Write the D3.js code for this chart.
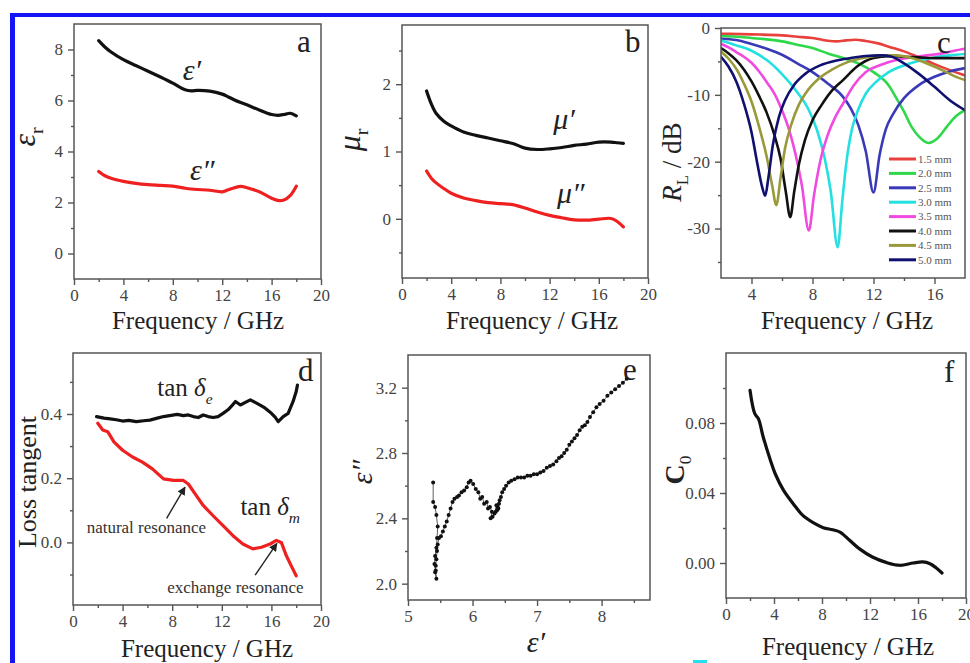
<!DOCTYPE html>
<html>
<head>
<meta charset="utf-8">
<title>Microwave absorption panels</title>
<script src="https://cdn.jsdelivr.net/npm/d3@7"></script>
<style>
  body { margin: 0; background: #fff; }
  svg text { font-family: "Liberation Serif", "Times New Roman", serif; }
  .axis .domain { display: none; }
  .axis line { stroke: #555; stroke-width: 1.4; }
  .axis text { font-size: 17px; fill: #444; font-family: "Liberation Serif", "Times New Roman", serif; }
</style>
</head>
<body>
<div id="chart"></div>
<script>
// ---- panel a : permittivity ----
var freqA = [2, 2.5, 3, 4, 5, 6, 7, 8, 9, 9.5, 10, 11, 12, 12.5, 13, 13.5, 14, 15, 16, 16.5, 17, 17.5, 18];
var epsReal = [8.35, 8.1, 7.9, 7.6, 7.37, 7.15, 6.92, 6.68, 6.42, 6.38, 6.4, 6.37, 6.25, 6.14, 6.02, 5.92, 5.83, 5.63, 5.45, 5.42, 5.45, 5.5, 5.4];
var epsImag = [3.22, 3.05, 2.95, 2.83, 2.75, 2.7, 2.67, 2.64, 2.56, 2.53, 2.51, 2.48, 2.42, 2.5, 2.58, 2.63, 2.58, 2.42, 2.17, 2.08, 2.1, 2.27, 2.64];

// ---- panel b : permeability ----
var freqB = [2, 2.4, 2.8, 3.4, 4, 5, 6, 7, 8, 9, 10, 11, 12, 13, 14, 15, 16, 17, 17.5, 18];
var muReal = [1.9, 1.7, 1.56, 1.45, 1.38, 1.29, 1.24, 1.2, 1.16, 1.12, 1.05, 1.03, 1.04, 1.06, 1.09, 1.11, 1.14, 1.14, 1.13, 1.12];
var muImag = [0.71, 0.6, 0.53, 0.45, 0.38, 0.31, 0.27, 0.24, 0.225, 0.21, 0.16, 0.1, 0.05, 0.015, -0.015, -0.02, -0.005, 0.005, -0.04, -0.12];

// ---- panel c : reflection loss, [GHz, dB] ----
var thickness = ["1.5 mm", "2.0 mm", "2.5 mm", "3.0 mm", "3.5 mm", "4.0 mm", "4.5 mm", "5.0 mm"];
var rl15 = [[2,-0.85],[4,-0.95],[6,-1.1],[7,-1.3],[8,-1.5],[9,-1.9],[9.6,-2.0],[10.2,-1.85],[10.8,-1.75],[11.5,-1.95],[12.3,-2.3],[13,-2.8],[14,-3.5],[15,-4.4],[16,-5.4],[17,-6.3],[18,-7.1]];
var rl20 = [[2,-1.2],[3,-1.3],[4,-1.5],[5,-1.7],[6,-2.0],[7,-2.5],[8,-3.0],[9,-3.8],[10,-4.5],[11,-5.3],[12,-6.6],[13,-8.6],[13.5,-10.5],[14,-12.5],[14.5,-14.8],[15,-16.3],[15.6,-17.2],[16.2,-16.5],[16.8,-14.8],[17.4,-13.2],[18,-12.3]];
var rl25 = [[2,-1.6],[3,-1.8],[4,-2.4],[5,-3.1],[6,-4.0],[7,-5.3],[8,-6.6],[9,-8.3],[10,-10.3],[10.5,-12.0],[11,-14.5],[11.5,-18.5],[12,-24.6],[12.4,-19.0],[12.8,-15.2],[13.3,-12.8],[14,-10.5],[15,-8.5],[16,-7.3],[17,-6.5],[18,-6.0]];
var rl30 = [[2,-1.85],[3,-2.6],[4,-3.4],[5,-4.8],[6,-6.9],[7,-9.6],[7.7,-12.0],[8.3,-15.3],[8.8,-19.5],[9.2,-24.5],[9.65,-32.8],[9.95,-26.0],[10.2,-20.5],[10.6,-15.0],[11,-12.2],[11.5,-9.8],[12.2,-8.0],[13,-6.6],[14,-5.6],[15,-4.9],[16,-4.4],[17,-4.1],[18,-3.9]];
var rl35 = [[2,-2.35],[2.5,-2.9],[3,-3.6],[3.5,-4.3],[4,-5.2],[4.5,-6.5],[5,-8.1],[5.5,-9.8],[6,-12.3],[6.5,-15.5],[6.9,-19.0],[7.3,-23.5],[7.76,-30.3],[8.1,-25.0],[8.5,-20.0],[9,-16.0],[9.5,-13.3],[10,-11.3],[10.7,-8.6],[11.5,-6.6],[12.5,-5.5],[13.5,-4.8],[14.5,-4.4],[15.5,-4.1],[16.5,-3.8],[17.3,-3.4],[18,-3.1]];
var rl40 = [[2,-3.0],[2.5,-3.8],[3,-4.8],[3.5,-6.2],[4,-8.0],[4.5,-10.2],[5,-12.7],[5.5,-16.0],[5.9,-19.5],[6.25,-24.5],[6.54,-28.3],[6.8,-24.5],[7.1,-20.5],[7.5,-16.8],[8,-13.8],[8.6,-11.5],[9.3,-9.3],[10,-7.8],[10.9,-5.8],[12,-4.5],[13,-4.2],[14,-4.3],[15,-4.4],[16,-4.5],[17,-4.5],[18,-4.5]];
var rl45 = [[2,-3.5],[2.5,-4.6],[3,-6.1],[3.5,-8.3],[4,-11.0],[4.5,-14.8],[5,-19.3],[5.35,-23.5],[5.63,-26.5],[5.9,-22.5],[6.2,-18.0],[6.6,-14.5],[7.1,-11.5],[7.6,-9.6],[8.4,-7.6],[9.3,-6.2],[10.3,-5.1],[11.5,-4.4],[12.5,-4.1],[13.5,-4.1],[14.5,-4.5],[15.5,-5.3],[16.5,-6.3],[17.3,-7.2],[18,-7.8]];
var rl50 = [[2,-4.3],[2.5,-5.8],[3,-8.0],[3.5,-11.3],[4,-15.6],[4.4,-20.5],[4.7,-23.8],[4.9,-25.1],[5.1,-22.5],[5.4,-17.5],[5.8,-13.3],[6.2,-10.8],[6.8,-8.5],[7.5,-6.9],[8.5,-5.6],[9.5,-4.9],[10.5,-4.5],[11.5,-4.2],[12.5,-4.1],[13.2,-4.3],[14,-5.3],[15,-6.9],[16,-8.8],[17,-10.8],[18,-12.3]];
var rlSeries = [rl15, rl20, rl25, rl30, rl35, rl40, rl45, rl50];
var rlColors = ["#e8413c", "#2ed84a", "#3a3ab8", "#24e0e0", "#f04ae0", "#111111", "#9a9a3a", "#101070"];

// ---- panel d : loss tangents ----
var freqDe = [1.9,2.5,3,3.5,4,4.5,5.1,5.7,6.2,6.8,7.3,7.8,8.4,8.9,9.3,9.7,10.1,10.5,10.9,11.3,11.7,12.1,12.5,12.8,13.1,13.5,13.9,14.3,14.8,15.2,15.5,16,16.3,16.55,16.95,17.35,17.75,18,18.1];
var tanDe = [0.392,0.387,0.385,0.382,0.378,0.38,0.376,0.379,0.381,0.387,0.392,0.395,0.399,0.395,0.397,0.392,0.389,0.397,0.392,0.389,0.392,0.402,0.413,0.425,0.439,0.428,0.436,0.444,0.434,0.425,0.418,0.402,0.39,0.376,0.392,0.402,0.439,0.47,0.49];
var freqDm = [2,2.4,2.8,3.3,4,4.8,5.6,6.4,7.3,8.1,8.9,9.3,9.85,10.5,11.3,12.1,12.9,13.7,14.5,15.2,15.9,16.4,16.8,17.2,17.6,18];
var tanDm = [0.371,0.35,0.345,0.313,0.287,0.266,0.25,0.229,0.198,0.193,0.193,0.182,0.151,0.115,0.083,0.052,0.021,-0.005,-0.02,-0.015,-0.005,0.006,0.0,-0.041,-0.073,-0.104];

// ---- panel e : Cole-Cole plot ----
var ccReal = [8.39,8.33,8.27,8.21,8.15,8.09,8.03,7.97,7.92,7.87,7.82,7.78,7.74,7.70,7.66,7.62,7.58,7.54,7.50,7.46,7.42,7.38,7.34,7.30,7.25,7.20,7.15,7.10,7.05,7.00,6.95,6.90,6.85,6.80,6.75,6.70,6.65,6.60,6.56,6.52,6.49,6.46,6.44,6.42,6.41,6.39,6.38,6.36,6.40,6.37,6.34,6.31,6.28,6.30,6.27,6.24,6.22,6.18,6.15,6.12,6.09,6.05,6.01,5.97,5.94,5.91,5.87,5.83,5.79,5.76,5.72,5.69,5.66,5.63,5.60,5.57,5.54,5.51,5.48,5.46,5.45,5.44,5.43,5.42,5.44,5.43,5.41,5.42,5.44,5.45,5.46,5.44,5.42,5.39,5.39];
var ccImag = [3.255,3.23,3.21,3.19,3.17,3.15,3.12,3.10,3.08,3.05,3.02,2.99,2.97,2.96,2.94,2.91,2.89,2.87,2.85,2.82,2.80,2.78,2.77,2.75,2.73,2.72,2.71,2.69,2.68,2.67,2.67,2.66,2.66,2.65,2.65,2.65,2.64,2.63,2.62,2.60,2.58,2.56,2.53,2.51,2.49,2.47,2.45,2.44,2.46,2.48,2.43,2.41,2.40,2.44,2.47,2.46,2.50,2.49,2.53,2.52,2.56,2.58,2.61,2.63,2.62,2.59,2.57,2.56,2.54,2.53,2.52,2.50,2.46,2.42,2.38,2.35,2.32,2.29,2.28,2.24,2.20,2.15,2.11,2.07,2.03,2.08,2.12,2.17,2.22,2.28,2.35,2.42,2.47,2.50,2.62];

// ---- panel f : C0 ----
var freqF = [2,2.4,2.7,3.1,3.7,4.1,4.8,5.6,6.4,7.3,8.1,8.9,9.5,10.3,11.1,12.2,13.4,14.5,15.6,16.4,17,17.5,18];
var c0 = [0.0987,0.0853,0.0825,0.072,0.0587,0.051,0.0415,0.0339,0.0272,0.0229,0.0202,0.019,0.0177,0.013,0.0082,0.0034,0.0002,-0.0013,0.0,0.0006,-0.0004,-0.0027,-0.0057];

var freqMajor = [0, 4, 8, 12, 16, 20];
var freqMinor = [2, 6, 10, 14, 18];

var BLACK = "#111", RED = "#ee2020";

var svg = d3.select("#chart").append("svg")
  .attr("width", 970)
  .attr("height", 663);

svg.append("rect").attr("width", 970).attr("height", 663).attr("fill", "#fff");
// blue frame of the page scan
svg.append("rect").attr("x", 10).attr("y", 13).attr("width", 960).attr("height", 4).attr("fill", "#1414f5");
svg.append("rect").attr("x", 10).attr("y", 13).attr("width", 5).attr("height", 650).attr("fill", "#1414f5");
svg.append("rect").attr("x", 693).attr("y", 660).attr("width", 14).attr("height", 3).attr("fill", "#22e0f0");

var clipId = 0;
function makePanel(box, xd, yd, t) {
  var x = d3.scaleLinear().domain(xd).range([box.l, box.r]);
  var y = d3.scaleLinear().domain(yd).range([box.b, box.t]);
  var g = svg.append("g");

  g.append("g").attr("class", "axis").attr("transform", "translate(0," + box.b + ")")
    .call(d3.axisBottom(x).tickValues(t.xMinor).tickSize(3).tickFormat("").tickSizeOuter(0));
  g.append("g").attr("class", "axis").attr("transform", "translate(0," + box.b + ")")
    .call(d3.axisBottom(x).tickValues(t.xMajor).tickSize(6).tickPadding(4).tickFormat(t.xFmt).tickSizeOuter(0));
  g.append("g").attr("class", "axis").attr("transform", "translate(" + box.l + ",0)")
    .call(d3.axisLeft(y).tickValues(t.yMinor).tickSize(3).tickFormat("").tickSizeOuter(0));
  g.append("g").attr("class", "axis").attr("transform", "translate(" + box.l + ",0)")
    .call(d3.axisLeft(y).tickValues(t.yMajor).tickSize(6).tickPadding(5).tickFormat(t.yFmt).tickSizeOuter(0));

  var id = "clip" + (clipId++);
  svg.append("clipPath").attr("id", id).append("rect")
    .attr("x", box.l).attr("y", box.t).attr("width", box.r - box.l).attr("height", box.b - box.t);
  var plot = g.append("g").attr("clip-path", "url(#" + id + ")");

  g.append("rect")
    .attr("x", box.l).attr("y", box.t)
    .attr("width", box.r - box.l).attr("height", box.b - box.t)
    .attr("fill", "none").attr("stroke", "#555").attr("stroke-width", 1.5);
  return { g: g, plot: plot, x: x, y: y, box: box };
}

function plain(d) { return String(d); }

function drawLine(p, xs, ys, color, width, curve) {
  var line = d3.line()
    .x(function(d) { return p.x(d[0]); })
    .y(function(d) { return p.y(d[1]); })
    .curve(curve || d3.curveCatmullRom);
  p.plot.append("path")
    .datum(xs.map(function(v, i) { return [v, ys[i]]; }))
    .attr("d", line)
    .attr("fill", "none")
    .attr("stroke", color)
    .attr("stroke-width", width)
    .attr("stroke-linejoin", "round")
    .attr("stroke-linecap", "round");
}

function panelLabel(p, txt, px, py) {
  p.g.append("text").attr("x", px).attr("y", py)
    .style("font-size", "31px").style("fill", "#222").text(txt);
}

function xTitle(p, cx, by) {
  p.g.append("text").attr("x", cx).attr("y", by)
    .attr("text-anchor", "middle")
    .style("font-size", "25px").style("fill", "#222")
    .text("Frequency / GHz");
}

// rotated y title, parts = [[text, italic, sub, bold]]
function yTitle(p, bx, cy, parts, size) {
  var t = p.g.append("text")
    .attr("transform", "translate(" + bx + "," + cy + ") rotate(-90)")
    .attr("text-anchor", "middle")
    .style("font-size", size + "px").style("fill", "#222");
  var shift = 0;
  parts.forEach(function(pt) {
    var s = t.append("tspan").text(pt[0]);
    if (pt[1]) s.style("font-style", "italic");
    if (pt[3]) s.style("font-weight", "bold");
    var want = pt[2] ? size * 0.25 : 0;
    s.attr("dy", want - shift);
    shift = want;
    if (pt[2]) s.style("font-size", (size * 0.62) + "px");
  });
}

function annot(p, fx, fy, parts, size) {
  var t = p.g.append("text")
    .attr("x", p.x(fx)).attr("y", p.y(fy))
    .style("font-size", size + "px").style("fill", "#222");
  var shift = 0;
  parts.forEach(function(pt) {
    var s = t.append("tspan").text(pt[0]);
    if (pt[1]) s.style("font-style", "italic");
    var want = pt[2] ? size * 0.3 : 0;
    s.attr("dy", want - shift);
    shift = want;
    if (pt[2]) s.style("font-size", (size * 0.62) + "px");
  });
  return t;
}

// ===== a =====
var pa = makePanel({ l: 74, r: 321, t: 24, b: 279 }, [0, 20], [-1, 9], {
  xMajor: freqMajor, xMinor: freqMinor, xFmt: plain,
  yMajor: [0, 2, 4, 6, 8], yMinor: [1, 3, 5, 7], yFmt: plain
});
drawLine(pa, freqA, epsReal, BLACK, 3.2);
drawLine(pa, freqA, epsImag, RED, 3.2);
annot(pa, 8.8, 6.8, [["\u03b5\u2032", true]], 30);
annot(pa, 9.4, 2.9, [["\u03b5\u2033", true]], 30);
panelLabel(pa, "a", 297, 52);
xTitle(pa, 198, 329);
yTitle(pa, 35, 137, [["\u03b5", true], ["r", false, true]], 32);

// ===== b =====
var pb = makePanel({ l: 402, r: 648, t: 25, b: 278 }, [0, 20], [-0.88, 2.88], {
  xMajor: freqMajor, xMinor: freqMinor, xFmt: plain,
  yMajor: [0, 1, 2], yMinor: [-0.5, 0.5, 1.5, 2.5], yFmt: plain
});
drawLine(pb, freqB, muReal, BLACK, 3.2);
drawLine(pb, freqB, muImag, RED, 3.2);
annot(pb, 12.3, 1.33, [["\u03bc\u2032", true]], 30);
annot(pb, 12.6, 0.23, [["\u03bc\u2033", true]], 30);
panelLabel(pb, "b", 625, 52);
xTitle(pb, 532, 329);
yTitle(pb, 360, 140, [["\u03bc", true], ["r", false, true]], 32);

// ===== c =====
var pc = makePanel({ l: 721, r: 965, t: 28, b: 278 }, [2, 18], [-37.4, 0], {
  xMajor: [4, 8, 12, 16], xMinor: [6, 10, 14], xFmt: plain,
  yMajor: [0, -10, -20, -30], yMinor: [-5, -15, -25, -35], yFmt: plain
});
rlSeries.forEach(function(s, i) {
  drawLine(pc, s.map(function(d) { return d[0]; }), s.map(function(d) { return d[1]; }),
    rlColors[i], 2.6, d3.curveMonotoneX);
});
var leg = pc.g.append("g");
thickness.forEach(function(name, i) {
  var yy = 159 + i * 14.4;
  leg.append("line").attr("x1", 889).attr("x2", 916).attr("y1", yy).attr("y2", yy)
    .attr("stroke", rlColors[i]).attr("stroke-width", 3);
  leg.append("text").attr("x", 918).attr("y", yy).attr("dy", "0.35em")
    .style("font-size", "11px").style("fill", "#555").text(name);
});
panelLabel(pc, "c", 937, 53);
xTitle(pc, 847, 329);
yTitle(pc, 681, 162, [["R", true], ["L", false, true], [" / dB", false]], 27);

// ===== d =====
var pd = makePanel({ l: 73, r: 321, t: 353, b: 605 }, [0, 20], [-0.195, 0.59], {
  xMajor: freqMajor, xMinor: freqMinor, xFmt: plain,
  yMajor: [0, 0.2, 0.4], yMinor: [-0.1, 0.1, 0.3, 0.5], yFmt: d3.format(".1f")
});
drawLine(pd, freqDe, tanDe, BLACK, 3.2, d3.curveLinear);
drawLine(pd, freqDm, tanDm, RED, 3.2, d3.curveLinear);
annot(pd, 6.8, 0.455, [["tan ", false], ["\u03b4", true], ["e", true, true]], 25);
annot(pd, 13.5, 0.085, [["tan ", false], ["\u03b4", true], ["m", true, true]], 25);
annot(pd, 1.1, 0.029, [["natural resonance", false]], 17).style("fill", "#333");
annot(pd, 7.6, -0.159, [["exchange resonance", false]], 17).style("fill", "#333");

svg.append("defs").append("marker")
  .attr("id", "arrowHead").attr("viewBox", "0 0 10 10")
  .attr("refX", 9).attr("refY", 5)
  .attr("markerWidth", 6).attr("markerHeight", 6)
  .attr("orient", "auto")
  .append("path").attr("d", "M0,0 L10,5 L0,10 z").attr("fill", "#222");
var arrows = [[7.55, 0.075, 9.03, 0.172], [14.69, -0.102, 16.44, -0.003]];
arrows.forEach(function(a) {
  pd.g.append("line")
    .attr("x1", pd.x(a[0])).attr("y1", pd.y(a[1]))
    .attr("x2", pd.x(a[2])).attr("y2", pd.y(a[3]))
    .attr("stroke", "#222").attr("stroke-width", 1.4)
    .attr("marker-end", "url(#arrowHead)");
});
panelLabel(pd, "d", 298, 381);
xTitle(pd, 207, 657);
yTitle(pd, 36, 482, [["Loss tangent", false]], 26);

// ===== e =====
var pe = makePanel({ l: 408, r: 650, t: 355, b: 600 }, [5, 8.75], [1.9, 3.4], {
  xMajor: [5, 6, 7, 8], xMinor: [5.5, 6.5, 7.5, 8.5], xFmt: plain,
  yMajor: [2.0, 2.4, 2.8, 3.2], yMinor: [2.2, 2.6, 3.0], yFmt: d3.format(".1f")
});
drawLine(pe, ccReal, ccImag, "#333", 0.8, d3.curveLinear);
pe.plot.selectAll("circle.pt")
  .data(ccReal.map(function(v, i) { return [v, ccImag[i]]; }))
  .enter().append("circle")
  .attr("class", "pt")
  .attr("cx", function(d) { return pe.x(d[0]); })
  .attr("cy", function(d) { return pe.y(d[1]); })
  .attr("r", 2)
  .attr("fill", "#111");
panelLabel(pe, "e", 623, 380);
pe.g.append("text").attr("x", 536).attr("y", 652).attr("text-anchor", "middle")
  .style("font-size", "30px").style("font-style", "italic").style("fill", "#222")
  .text("\u03b5\u2032");
yTitle(pe, 372, 472, [["\u03b5\u2033", true]], 30);

// ===== f =====
var pf = makePanel({ l: 726, r: 966, t: 353, b: 598 }, [0, 20], [-0.02, 0.12], {
  xMajor: freqMajor, xMinor: freqMinor, xFmt: plain,
  yMajor: [0, 0.04, 0.08], yMinor: [0.02, 0.06, 0.1], yFmt: d3.format(".2f")
});
drawLine(pf, freqF, c0, BLACK, 3.2);
panelLabel(pf, "f", 944, 382);
xTitle(pf, 848, 655);
yTitle(pf, 684, 470, [["C", false, false, true], ["0", false, true]], 28);
</script>
</body>
</html>
